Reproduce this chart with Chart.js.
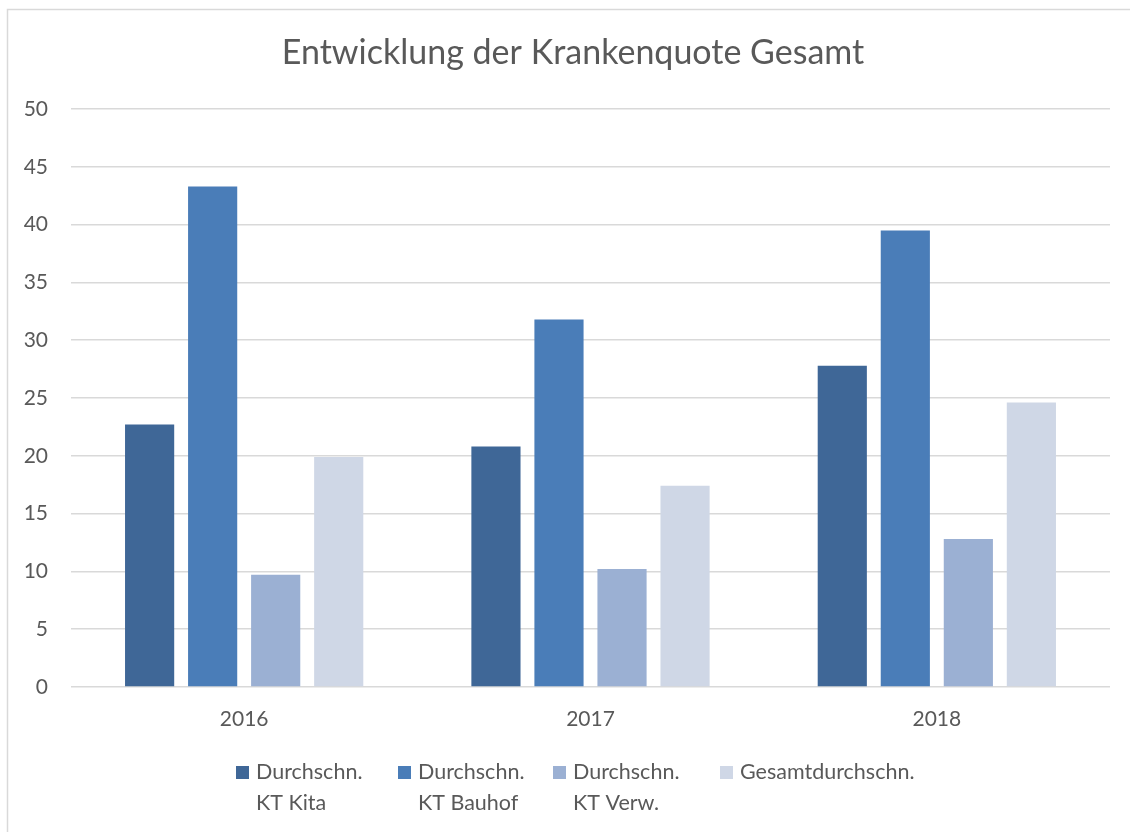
<!DOCTYPE html>
<html>
<head>
<meta charset="utf-8">
<script src="https://cdn.jsdelivr.net/npm/chart.js@4"></script>
<style>
  html, body { margin: 0; padding: 0; background: #fff; }
  #wrap { width: 1130px; height: 832px; }
</style>
</head>
<body>
<div id="wrap"><canvas id="quoteChart" width="1130" height="832"></canvas></div>
<script>
// Data
const years = ['2016', '2017', '2018'];
const kitaValues = [22.7, 20.8, 27.8];
const bauhofValues = [43.3, 31.8, 39.5];
const verwValues = [9.7, 10.2, 12.8];
const gesamtValues = [19.9, 17.4, 24.6];
const yTicks = [0, 5, 10, 15, 20, 25, 30, 35, 40, 45, 50];
const seriesLabels = [['Durchschn.', 'KT Kita'], ['Durchschn.', 'KT Bauhof'], ['Durchschn.', 'KT Verw.'], ['Gesamtdurchschn.']];

const textColor = '#595959';
const fontFamily = 'Lato, "Open Sans", sans-serif';

// Title, frame and two-line legend drawn by hand
const decorPlugin = {
    id: 'decor',
    beforeDraw(chart) {
        const ctx = chart.ctx;
        ctx.save();
        ctx.strokeStyle = '#d9d9d9';
        ctx.lineWidth = 1.5;
        ctx.beginPath();
        ctx.moveTo(7.5, 832);
        ctx.lineTo(7.5, 9.5);
        ctx.lineTo(1130, 9.5);
        ctx.stroke();
        ctx.restore();
    },
    afterDraw(chart) {
        const ctx = chart.ctx;
        ctx.save();
        ctx.fillStyle = textColor;
        ctx.textAlign = 'center';
        ctx.textBaseline = 'middle';
        ctx.font = '34px ' + fontFamily;
        ctx.fillText('Entwicklung der Krankenquote Gesamt', 573, 53);

        const boxX = [236, 398, 553, 720];
        ctx.font = '21.5px ' + fontFamily;
        ctx.textAlign = 'left';
        chart.data.datasets.forEach(function(ds, i) {
            ctx.fillStyle = ds.backgroundColor;
            ctx.fillRect(boxX[i], 766, 13, 13);
            ctx.fillStyle = textColor;
            seriesLabels[i].forEach(function(line, j) {
                ctx.fillText(line, boxX[i] + 20, 772 + j * 31);
            });
        });
        ctx.restore();
    }
};

const ctx = document.getElementById('quoteChart').getContext('2d');
const quoteChart = new Chart(ctx, {
    type: 'bar',
    data: {
        labels: years,
        datasets: [{
            label: 'Durchschn. KT Kita',
            data: kitaValues,
            backgroundColor: '#3f6797'
        }, {
            label: 'Durchschn. KT Bauhof',
            data: bauhofValues,
            backgroundColor: '#4a7db8'
        }, {
            label: 'Durchschn. KT Verw.',
            data: verwValues,
            backgroundColor: '#9bb0d3'
        }, {
            label: 'Gesamtdurchschn.',
            data: gesamtValues,
            backgroundColor: '#cfd7e6'
        }]
    },
    options: {
        responsive: false,
        animation: false,
        categoryPercentage: 0.728,
        barPercentage: 0.78,
        layout: {
            padding: { top: 109, right: 20, left: 0, bottom: 0 }
        },
        plugins: {
            legend: { display: false },
            title: { display: false },
            tooltip: { enabled: false }
        },
        scales: {
            x: {
                grid: { display: false, drawTicks: false },
                border: { display: false },
                ticks: {
                    color: textColor,
                    font: { family: fontFamily, size: 21 },
                    padding: 20
                },
                afterFit: function(scale) { scale.height = 145; }
            },
            y: {
                min: 0,
                max: 50,
                afterBuildTicks: function(scale) {
                    scale.ticks = yTicks.map(function(v) { return { value: v }; });
                },
                grid: { color: '#d9d9d9', lineWidth: 1.5, drawTicks: false },
                border: { display: false },
                ticks: {
                    color: textColor,
                    font: { family: fontFamily, size: 21 },
                    padding: 23
                },
                afterFit: function(scale) { scale.width = 71; }
            }
        }
    },
    plugins: [decorPlugin]
});
</script>
</body>
</html>
